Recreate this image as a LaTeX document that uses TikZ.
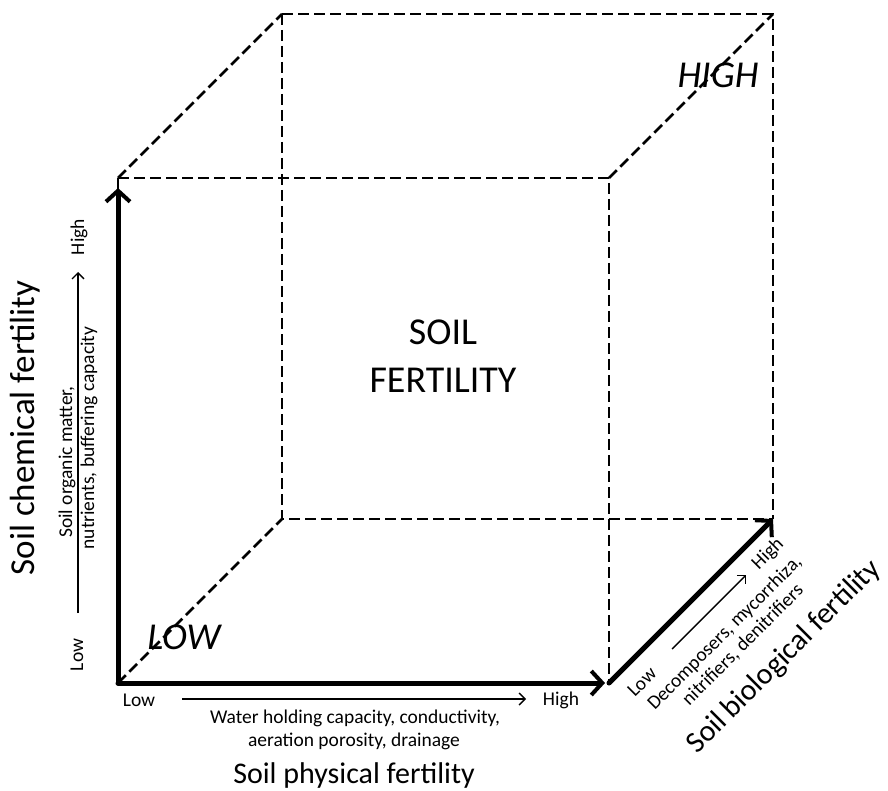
\documentclass[tikz,border=0pt]{standalone}
\usepackage{fontspec}
\setmainfont{Carlito}
\usetikzlibrary{arrows.meta}
\begin{document}
\begin{tikzpicture}[x=1pt,y=-1pt,
  edge/.style={line width=2.8pt, dash pattern=on 11pt off 5pt},
  axisarrow/.style={line width=5pt, line cap=round, -{Straight Barb[length=11pt,width=24pt,line width=4pt]}},
  thinarrow/.style={line width=1.4pt, -{Straight Barb[length=6pt,width=12pt,line width=1.4pt]}},
  small/.style={inner sep=0pt, font=\fontsize{19.5}{23}\selectfont},
  ttl/.style={inner sep=0pt, font=\fontsize{30}{36}\selectfont},
  corner/.style={inner sep=0pt, font=\fontsize{38}{46}\selectfont\itshape},
  centre/.style={inner sep=0pt, align=center, font=\fontsize{38}{48}\selectfont}]
\useasboundingbox (0,0) rectangle (888,791);
% cube corners
\coordinate (FTL) at (118,178);
\coordinate (FTR) at (609,178);
\coordinate (FBL) at (118,683);
\coordinate (FBR) at (609,683);
\coordinate (BTL) at (282,14);
\coordinate (BTR) at (773,14);
\coordinate (BBL) at (282,519);
\coordinate (BBR) at (773,519);
\coordinate (VT) at (118,188);
\coordinate (HT) at (605,683);
% dashed edges
\draw[edge] (FTL) -- (FTR) -- (FBR);
\draw[edge] (FTL) -- (FBL);
\draw[edge] (BTL) -- (BTR) -- (BBR);
\draw[edge] (BTL) -- (BBL) -- (BBR);
\draw[edge] (FTL) -- (BTL);
\draw[edge] (FTR) -- (BTR);
\draw[edge] (FBL) -- (BBL);
% axes
\draw[axisarrow] (FBL) -- (VT);
\draw[axisarrow] (FBL) -- (HT);
\draw[axisarrow] (FBR) -- (BBR);
% corner labels
\node[corner] (high) at (718,75) {HIGH};
\node[corner] (low) at (184,637) {LOW};
\node[centre] (soil) at (443,356) {SOIL\\FERTILITY};
% physical (bottom)
\node[small] (pLow) at (139,700) {Low};
\node[small] (pHigh) at (561,700) {High};
\coordinate (pA) at (182,699);
\coordinate (pB) at (526,699);
\draw[thinarrow] (pA) -- (pB);
\node[small] (p1) at (355,718) {Water holding capacity, conductivity,};
\node[small] (p2) at (354,741) {aeration porosity, drainage};
\node[ttl] (pT) at (354,775) {Soil physical fertility};
% chemical (left)
\node[small, rotate=90] (cLow) at (77,655) {Low};
\node[small, rotate=90] (cHigh) at (79,237) {High};
\coordinate (cA) at (78,613);
\coordinate (cB) at (78,272);
\draw[thinarrow] (cA) -- (cB);
\node[small, rotate=90] (c1) at (67,462) {Soil organic matter,};
\node[small, rotate=90] (c2) at (89,438) {nutrients, buffering capacity};
\node[inner sep=0pt, font=\fontsize{35}{42}\selectfont, rotate=90] (cT) at (25,428) {Soil chemical fertility};
% biological (diagonal)
\node[small, rotate=45] (bLow) at (642,682) {Low};
\node[small, rotate=45] (bHigh) at (768,554) {High};
\coordinate (bA) at (672,649);
\coordinate (bB) at (746,575);
\draw[thinarrow] (bA) -- (bB);
\node[small, rotate=45] (b1) at (725,633) {Decomposers, mycorrhiza,};
\node[small, rotate=45] (b2) at (743,645) {nitrifiers, denitrifiers};
\node[ttl, rotate=45] (bT) at (784,657) {Soil biological fertility};
\end{tikzpicture}
\end{document}
